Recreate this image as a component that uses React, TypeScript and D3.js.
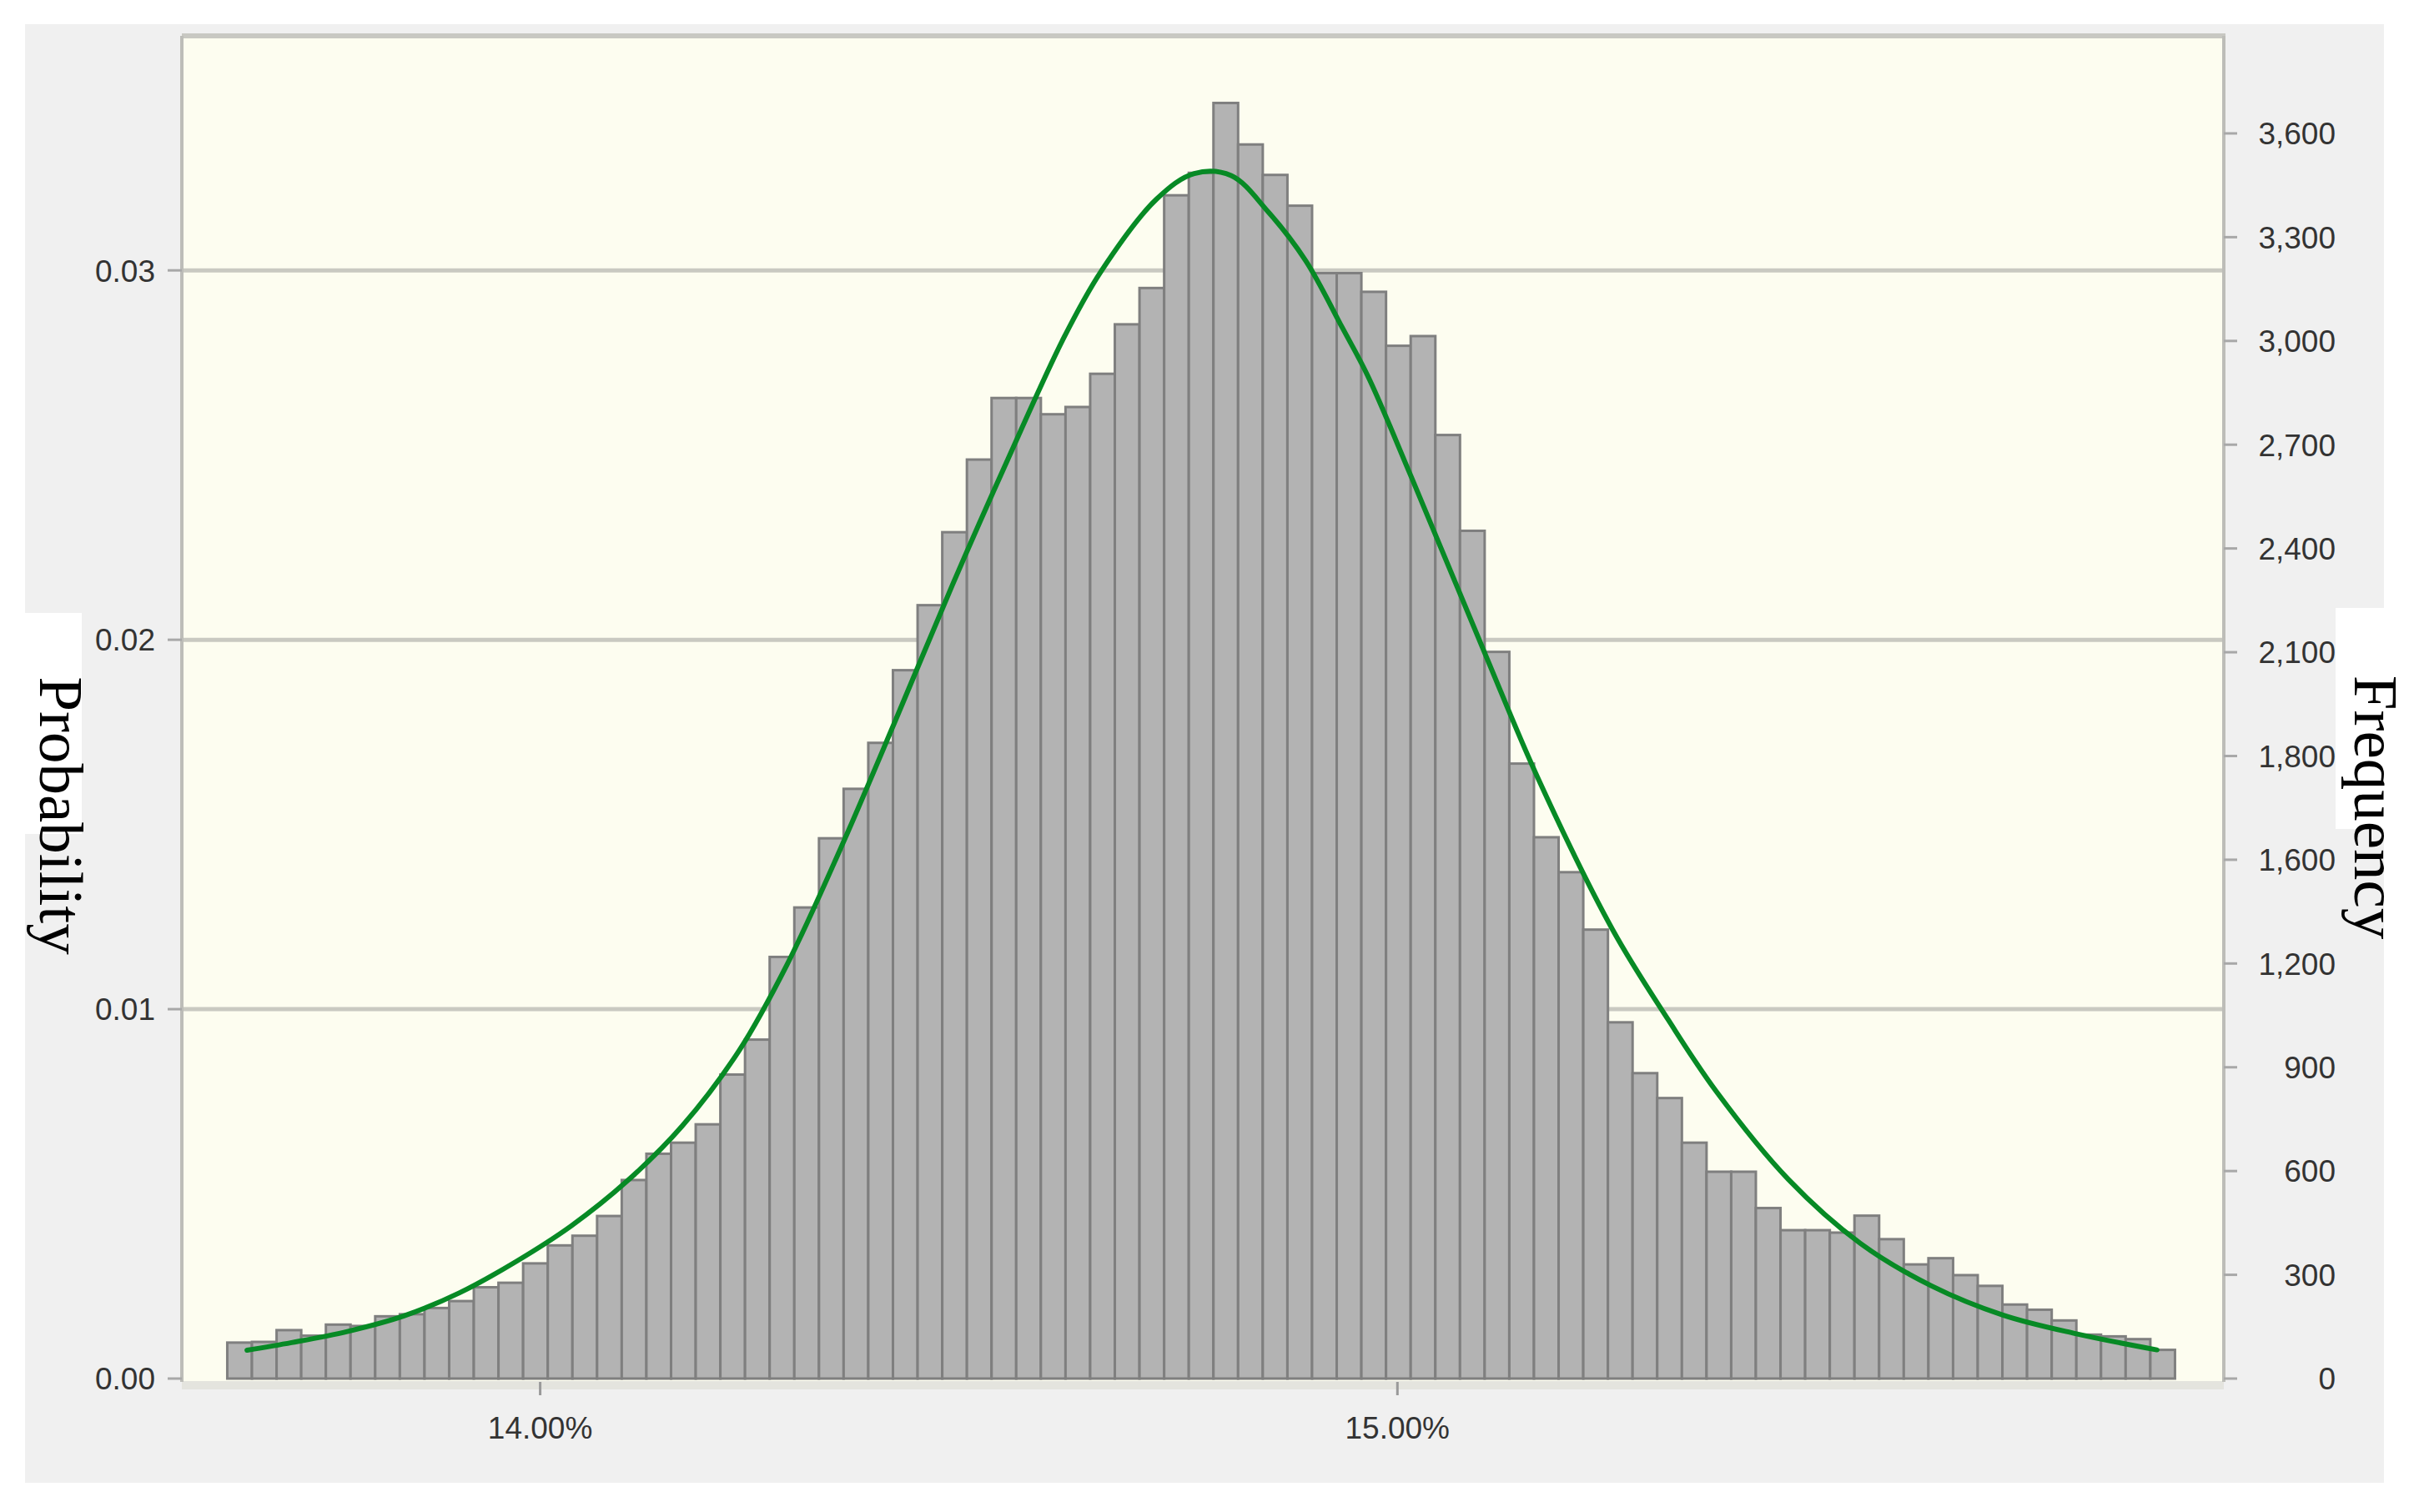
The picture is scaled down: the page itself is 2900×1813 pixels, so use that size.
import React from 'react';
import * as d3 from 'd3';

// histogram of simulated returns (bin start in %, bin width in %)
const BIN_START = 13.635;
const BIN_WIDTH = 0.02876;
const frequencies = [
  104, 106, 140, 124, 156, 152, 180, 186, 204, 224,
  264, 277, 333, 385, 413, 470, 574, 650, 682, 735,
  879, 980, 1219, 1362, 1562, 1705, 1838, 2048, 2236, 2447,
  2657, 2835, 2835, 2788, 2809, 2905, 3048, 3153, 3421, 3486,
  3688, 3568, 3480, 3391, 3196, 3196, 3142, 2986, 3014, 2728,
  2451, 2101, 1778, 1565, 1464, 1298, 1030, 883, 811, 682,
  598, 598, 493, 429, 429, 422, 471, 403, 330, 348,
  299, 268, 214, 199, 168, 127, 122, 114, 83,
];

// fitted distribution (green line)
const curveX = [
  13.658, 13.710, 13.775, 13.841, 13.906, 13.971, 14.036, 14.101, 14.166, 14.232,
  14.288, 14.350, 14.415, 14.481, 14.546, 14.611, 14.654, 14.719, 14.763, 14.806,
  14.849, 14.893, 14.936, 14.966, 15.016, 15.103, 15.163, 15.251, 15.316, 15.372,
  15.456, 15.540, 15.623, 15.707, 15.791, 15.886,
];
const curveY = [
  82, 104, 136, 181, 248, 337, 441, 570, 731, 948,
  1197, 1530, 1906, 2295, 2660, 3010, 3200, 3410, 3484, 3478,
  3374, 3232, 3037, 2896, 2608, 2091, 1741, 1298, 1037, 830,
  576, 391, 268, 183, 130, 83,
];

const probTicks = [0, 0.01, 0.02, 0.03];
const probGrid = [0.01, 0.02, 0.03];
const freqTicks = [0, 300, 600, 900, 1200, 1500, 1800, 2100, 2400, 2700, 3000, 3300, 3600];
const freqTickLabels = ['0', '300', '600', '900', '1,200', '1,600', '1,800', '2,100', '2,400', '2,700', '3,000', '3,300', '3,600'];
const xTicks = [14, 15];
const xTickLabels = ['14.00%', '15.00%'];

const X_DOMAIN = [13.582, 15.964];
const FREQ_MAX = 3882;
const TOTAL = 106800;

export default function App() {
  const W = 2900, H = 1813;
  const plot = { left: 218, right: 2666, top: 43, bottom: 1653 };

  const x = d3.scaleLinear().domain(X_DOMAIN).range([plot.left, plot.right]);
  const yF = d3.scaleLinear().domain([0, FREQ_MAX]).range([plot.bottom, plot.top]);
  const yP = d3.scaleLinear().domain([0, FREQ_MAX / TOTAL]).range([plot.bottom, plot.top]);

  const line = d3.line<number>()
    .x((d, i) => x(curveX[i]))
    .y(d => yF(d))
    .curve(d3.curveCatmullRom.alpha(0.5));

  const labelFont = '"Liberation Sans", Arial, sans-serif';

  return (
    <svg width={W} height={H} style={{ position: 'absolute', left: 0, top: 0, background: '#fff' }}>
      {/* outer panel */}
      <rect x={30} y={29} width={2828} height={1749} fill="#f0f0f0" />

      {/* plot area */}
      <rect x={plot.left} y={plot.top} width={plot.right - plot.left} height={plot.bottom - plot.top + 4}
        fill="#fdfdf0" />
      <line x1={plot.left} x2={plot.right} y1={plot.bottom + 8} y2={plot.bottom + 8} stroke="#e4e4de" strokeWidth={10} />

      {/* grid */}
      {probGrid.map(t => (
        <line key={t} x1={plot.left} x2={plot.right} y1={yP(t)} y2={yP(t)} stroke="#c9c9c1" strokeWidth={5} />
      ))}

      {/* bars */}
      {frequencies.map((f, i) => {
        const x0 = x(BIN_START + i * BIN_WIDTH);
        const x1 = x(BIN_START + (i + 1) * BIN_WIDTH);
        return (
          <rect key={i} x={x0} y={yF(f)} width={x1 - x0} height={yF(0) - yF(f)}
            fill="#b3b3b3" stroke="#7f7f7f" strokeWidth={3} />
        );
      })}

      {/* fitted curve */}
      <path d={line(curveY) || ''} fill="none" stroke="#078a25" strokeWidth={6} strokeLinecap="round" />

      {/* frame */}
      <line x1={plot.left} x2={plot.right + 2} y1={plot.top} y2={plot.top} stroke="#c8c8c2" strokeWidth={6} />
      <line x1={plot.left} x2={plot.left} y1={plot.top} y2={plot.bottom + 4} stroke="#bdbdb8" strokeWidth={4} />
      <line x1={plot.right} x2={plot.right} y1={plot.top} y2={plot.bottom + 4} stroke="#bdbdb8" strokeWidth={4} />

      {/* left axis */}
      {probTicks.map(t => (
        <g key={t}>
          <line x1={201} x2={plot.left} y1={yP(t)} y2={yP(t)} stroke="#a8a8a8" strokeWidth={3} />
          <text x={186} y={yP(t)} dy="0.36em" textAnchor="end" fontFamily={labelFont} fontSize={37} fill="#333">
            {d3.format('.2f')(t)}
          </text>
        </g>
      ))}

      {/* right axis */}
      {freqTicks.map((t, i) => (
        <g key={t}>
          <line x1={plot.right} x2={plot.right + 16} y1={yF(t)} y2={yF(t)} stroke="#a8a8a8" strokeWidth={3} />
          <text x={2800} y={yF(t)} dy="0.36em" textAnchor="end" fontFamily={labelFont} fontSize={37} fill="#333">
            {freqTickLabels[i]}
          </text>
        </g>
      ))}

      {/* bottom axis */}
      {xTicks.map((t, i) => (
        <g key={t}>
          <line x1={x(t)} x2={x(t)} y1={plot.bottom + 4} y2={plot.bottom + 20} stroke="#999" strokeWidth={3} />
          <text x={x(t)} y={1725} textAnchor="middle" fontFamily={labelFont} fontSize={37} fill="#333">
            {xTickLabels[i]}
          </text>
        </g>
      ))}

      {/* axis titles */}
      <rect x={22} y={735} width={76} height={265} fill="#fff" />
      <text transform="translate(48,978) rotate(90)" textAnchor="middle"
        fontFamily='"Liberation Serif", "Times New Roman", serif' fontSize={75} fill="#000">
        Probability
      </text>
      <rect x={2800} y={729} width={80} height={265} fill="#fff" />
      <text transform="translate(2823,968) rotate(90)" textAnchor="middle"
        fontFamily='"Liberation Serif", "Times New Roman", serif' fontSize={75} fill="#000">
        Frequency
      </text>
    </svg>
  );
}
